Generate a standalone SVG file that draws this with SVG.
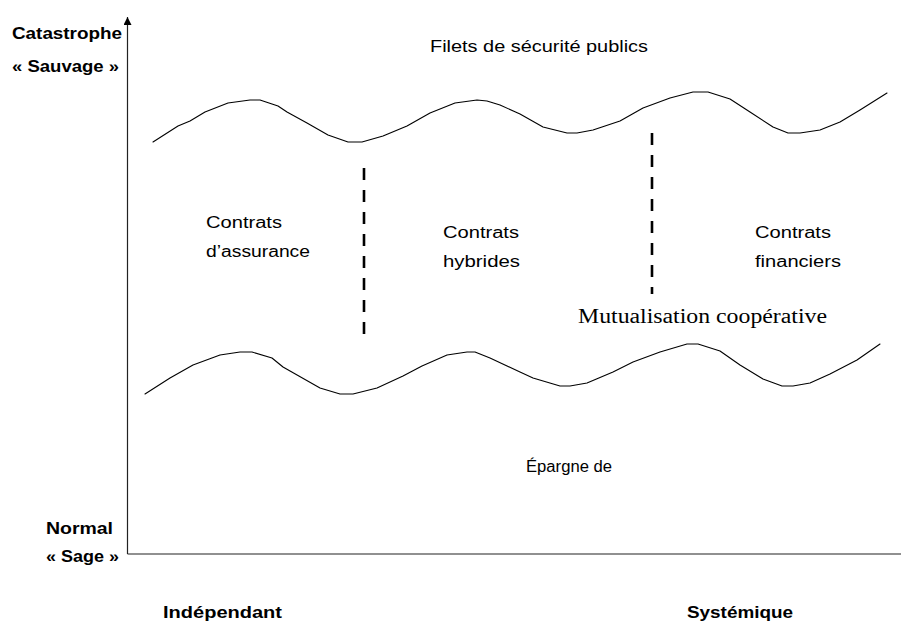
<svg xmlns="http://www.w3.org/2000/svg" width="901" height="623" viewBox="0 0 901 623">
<defs>
<style>
.lbl{font-family:"Liberation Sans",Arial,sans-serif;font-size:16px;fill:#000}
.bold{font-family:"Liberation Sans",Arial,sans-serif;font-size:16px;font-weight:bold;fill:#000}
.serif{font-family:"Liberation Serif","Times New Roman",serif;font-size:20px;fill:#000}
.wave{fill:none;stroke:#000;stroke-width:1.1;stroke-linejoin:round;stroke-linecap:round}
.axis{fill:none;stroke:#222;stroke-width:1.2}
.dash{fill:none;stroke:#000;stroke-width:2.6;stroke-dasharray:12 10}
</style>
<marker id="arr" viewBox="0 0 10 10" refX="10" refY="5" markerWidth="8" markerHeight="8" markerUnits="userSpaceOnUse" orient="auto">
<path d="M0,0 L10,5 L0,10 z" fill="#000"/>
</marker>
</defs>
<rect width="901" height="623" fill="#fff"/>
<g id="axes">
<line class="axis" x1="127.5" y1="554" x2="127.5" y2="17" marker-end="url(#arr)"/>
<line class="axis" x1="127.5" y1="554" x2="901" y2="554"/>
</g>
<g id="waves">
<polyline id="wave-top" class="wave" points="153,142 178,126 190,121 205,112 228,103 250,100 260,100 278,106 287,112 307,123 328,135 348,142 362,142 383,136 407,126 430,113 455,103 477,100 487,101 500,105 520,114 543,127 567,133 577,133 593,130 620,121 643,108 670,98 693,92 708,92 730,99 750,112 773,127 788,133 800,133 820,130 840,122 860,110 887,93"/>
<polyline id="wave-bottom" class="wave" points="145,394 170,378 193,365 220,355 240,352 252,352 272,358 283,367 320,388 340,394 353,394 377,388 403,376 422,366 447,355 467,352 475,352 490,358 520,372 533,378 560,386 570,386 587,383 613,372 633,362 660,352 687,344 698,344 720,351 740,365 763,379 782,386 793,386 810,383 830,374 857,360 880,344"/>
</g>
<g id="connectors">
<path class="dash" d="M364,168 V334"/>
<path class="dash" d="M652,133 V294"/>
</g>
<g id="filets"><text class="lbl" x="430" y="52" textLength="218" lengthAdjust="spacingAndGlyphs">Filets de sécurité publics</text></g>
<g id="contrats-assurance">
<text class="lbl" x="206" y="228" textLength="76" lengthAdjust="spacingAndGlyphs">Contrats</text>
<text class="lbl" x="206" y="257" textLength="104" lengthAdjust="spacingAndGlyphs">d’assurance</text>
</g>
<g id="contrats-hybrides">
<text class="lbl" x="443" y="238" textLength="76" lengthAdjust="spacingAndGlyphs">Contrats</text>
<text class="lbl" x="443" y="267" textLength="77" lengthAdjust="spacingAndGlyphs">hybrides</text>
</g>
<g id="contrats-financiers">
<text class="lbl" x="755" y="238" textLength="76" lengthAdjust="spacingAndGlyphs">Contrats</text>
<text class="lbl" x="755" y="267" textLength="86" lengthAdjust="spacingAndGlyphs">financiers</text>
</g>
<g id="mutualisation"><text class="serif" x="578" y="323" textLength="249" lengthAdjust="spacingAndGlyphs">Mutualisation coopérative</text></g>
<g id="epargne"><text class="lbl" x="526" y="472" textLength="86" lengthAdjust="spacingAndGlyphs">Épargne de</text></g>
<g id="y-top">
<text class="bold" x="12" y="39" textLength="110" lengthAdjust="spacingAndGlyphs">Catastrophe</text>
<text class="bold" x="12" y="72" textLength="107" lengthAdjust="spacingAndGlyphs">« Sauvage »</text>
</g>
<g id="y-bottom">
<text class="bold" x="46" y="534" textLength="67" lengthAdjust="spacingAndGlyphs">Normal</text>
<text class="bold" x="46" y="562" textLength="73" lengthAdjust="spacingAndGlyphs">« Sage »</text>
</g>
<g id="x-left"><text class="bold" x="163" y="618" textLength="119" lengthAdjust="spacingAndGlyphs">Indépendant</text></g>
<g id="x-right"><text class="bold" x="687" y="618" textLength="106" lengthAdjust="spacingAndGlyphs">Systémique</text></g>
</svg>
